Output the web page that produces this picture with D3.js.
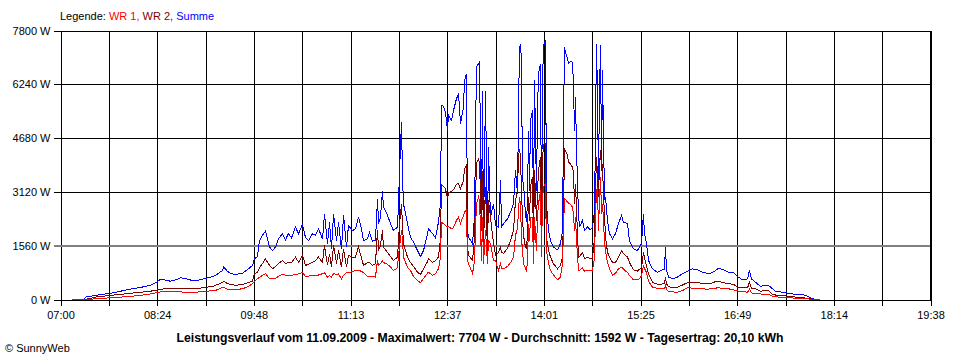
<!DOCTYPE html>
<html><head><meta charset="utf-8">
<script src="https://cdn.jsdelivr.net/npm/d3@7/dist/d3.min.js"></script>
<style>
html,body{margin:0;padding:0;background:#fff;}
svg{display:block;}
text{font-family:"Liberation Sans",Arial,sans-serif;}
</style></head>
<body>
<svg id="chart" width="960" height="360"></svg>
<script>
// time of day in minutes since midnight
const times = [429.6,440.9,441.8,450.5,463.6,472.3,481.0,489.7,498.4,504.5,507.1,513.2,515.8,521.9,524.6,530.6,535.0,542.0,548.1,553.3,
555.0,561.1,562.0,565.5,568.1,572.5,578.6,583.8,587.3,589.0,591.6,593.4,596.0,598.6,600.4,602.1,604.7,607.3,609.9,613.4,
616.0,618.6,621.3,624.7,627.4,630.8,633.5,636.1,639.6,642.2,644.8,648.3,650.0,652.6,654.4,656.1,657.9,660.5,662.2,664.8,
666.6,669.2,670.9,674.4,677.0,679.6,682.2,684.0,687.5,689.2,691.8,694.4,696.2,697.1,698.8,700.5,701.4,704.9,707.5,710.1,
713.6,714.5,715.4,717.1,718.0,718.8,722.3,724.9,727.6,731.0,733.7,736.3,739.8,740.6,744.1,746.7,749.3,751.1,751.9,753.7,
755.4,757.2,758.0,760.7,762.4,765.0,766.8,768.5,771.1,772.0,773.7,774.6,775.5,779.0,780.7,782.4,784.2,785.1,786.8,787.7,
788.5,790.3,792.0,792.9,794.6,797.3,799.0,801.6,803.4,804.2,806.0,809.5,812.1,814.7,816.4,818.2,819.0,819.9,820.8,821.6,
822.5,823.4,825.1,826.0,826.9,827.7,828.6,829.5,831.2,832.1,833.0,834.7,835.6,836.5,838.2,839.1,839.9,840.8,841.7,842.6,
843.4,845.2,846.9,849.5,853.0,855.6,857.4,858.2,859.1,860.0,861.7,862.6,864.3,866.1,867.0,867.8,868.7,869.6,871.3,872.2,
874.8,876.5,879.1,881.8,883.5,885.3,886.1,887.0,887.9,888.7,889.6,890.5,891.4,892.2,893.1,894.0,894.8,896.6,898.3,900.9,
903.5,906.2,908.8,910.5,914.0,915.7,919.2,922.7,924.5,926.2,927.9,928.8,930.6,932.3,935.8,940.1,944.5,946.2,947.1,948.0,
949.7,953.2,957.6,961.9,966.3,970.6,975.0,979.4,983.7,986.3,990.7,993.3,997.6,1002.0,1006.4,1009.8,1014.2,1018.6,1020.3,1022.0,
1025.5,1029.9,1034.2,1036.8,1040.3,1043.0,1049.1,1054.3,1060.4,1064.7,1069.1,1073.4,1077.8,1081.3];

// Summe (W)
const summe = [0,0,70,120,180,240,300,350,410,520,590,550,530,590,630,590,550,570,630,670,
700,840,940,820,750,730,760,890,990,1180,1250,1710,1860,1980,1760,1520,1420,1520,1760,1910,
1730,1910,1790,2100,1910,2180,1790,1710,1910,1860,2050,1760,2490,1620,2240,1470,2490,1710,2240,1470,
2440,1520,2150,2000,2050,2390,2050,1710,1760,1950,1690,1710,2920,2200,2390,3140,2680,2440,2200,2000,
2100,2780,3740,5140,3550,2780,2200,1810,1660,1420,1250,1420,1910,2050,1910,1790,2240,2780,5630,5600,
5430,4900,5340,5190,5480,5820,5970,5100,5580,6350,6550,2000,1810,1620,2390,6740,6840,6900,2000,6060,
1810,6060,1620,4420,2390,2780,2150,2100,3450,2100,2200,2340,2530,2780,3740,3070,5390,7320,7370,6930,
3450,3360,2490,2240,2870,4900,3160,5190,5480,2390,6350,3160,5480,6550,6840,2200,6260,7320,7460,7510,
2780,2000,1710,1520,1440,1620,2000,4900,7320,7170,6980,6840,6910,6880,6160,4900,5870,4320,2490,2100,
2290,2000,2100,2020,2100,2580,4900,7420,5870,3450,6000,7380,3800,6640,4700,2900,2970,2290,1910,1760,
1910,2200,2440,2240,2200,1710,1470,1420,1520,1620,2490,1910,1620,1130,890,790,860,860,1520,860,
650,600,650,750,820,890,860,790,760,760,840,910,860,790,790,670,570,600,840,600,
500,380,410,410,310,240,210,180,150,150,120,50,0,0];

// WR 2 (W)
const wr2 = [0,0,0,70,120,150,180,210,240,280,300,310,310,320,320,310,310,330,360,390,
410,490,530,460,440,410,440,490,530,750,780,930,1040,1180,1070,990,890,960,1040,1130,
1040,1070,1070,1230,1080,1280,990,1020,1080,1130,1230,1070,1570,990,1330,940,1570,1040,1420,940,
1470,940,1280,1220,1230,1520,1210,990,1070,1080,990,1040,2000,1420,1570,2000,1520,1360,1250,1130,
1230,1710,2200,2780,2150,1620,1230,1070,960,790,730,890,1100,1180,1070,1130,1230,1760,3340,3280,
3210,2920,3100,3140,3180,3340,3360,3210,3450,3800,3890,1520,1280,1130,1810,3940,4080,3970,2000,3740,
1620,3260,1420,2870,2390,1620,1280,1360,1520,1360,1340,1480,1710,2000,2870,3160,4130,4370,4130,3160,
2390,1860,1520,1480,1910,2970,2290,3260,3550,1620,3740,2290,3160,3740,4130,1620,4030,4470,4520,4520,
1810,1420,1230,1040,890,990,1230,2390,4370,4320,4180,3980,3940,3830,3650,2780,3360,2580,1230,1250,
1360,1180,1220,1190,1180,1810,3160,4130,3600,2970,3890,4320,3740,3940,2970,2490,1810,1370,1220,1080,
1070,1220,1420,1330,1230,1070,860,820,880,920,1370,1220,960,750,500,440,450,460,650,450,
380,340,360,420,490,500,500,460,460,460,520,520,490,460,440,360,350,340,500,330,
310,240,260,260,150,130,120,90,70,70,40,20,0,0];

// WR 1 (W)
const wr1 = [0,0,0,20,50,70,90,120,160,200,220,230,230,220,220,210,210,220,240,260,
260,350,360,290,280,290,310,380,460,520,600,640,700,750,670,600,600,610,670,730,
710,700,700,730,740,790,670,680,700,700,710,750,780,650,700,650,750,730,740,600,
700,790,780,810,840,840,820,780,670,670,660,650,1130,990,1040,1130,1070,1020,940,840,
920,1280,1520,2000,1710,1230,940,840,670,550,490,610,770,790,700,750,890,1230,2240,2200,
2150,2100,2120,2050,2090,2290,2390,2200,2440,2520,2630,1130,1040,750,1130,2780,2970,2870,1130,2390,
1040,2000,1040,1710,1620,1130,1130,840,1070,890,890,960,1070,1230,1860,2060,2580,2970,2730,1810,
1420,1040,900,840,1070,2200,1710,2390,2390,1040,2390,1420,2390,2780,3160,1230,2870,3260,3310,3360,
1420,1040,840,710,570,650,1040,2000,2920,2900,2820,2800,2760,2680,2440,2000,2390,1710,840,840,
920,820,840,840,840,1230,2390,3160,3260,2000,2870,3550,2490,2780,2290,1620,1420,1070,900,700,
760,890,940,880,780,700,570,570,610,680,990,900,780,530,360,320,310,310,410,290,
240,220,210,260,340,330,330,310,300,310,330,340,320,310,280,250,230,210,310,190,
170,160,150,150,90,80,60,50,40,30,30,10,0,0];

const yTickValues = [0, 1560, 3120, 4680, 6240, 7800];
const xTickLabels = ["07:00","08:24","09:48","11:13","12:37","14:01","15:25","16:49","18:14","19:38"];
const averageW = 1592;
const titleText = "Leistungsverlauf vom 11.09.2009 - Maximalwert: 7704 W - Durchschnitt: 1592 W - Tagesertrag: 20,10 kWh";

const svg = d3.select("#chart");
const x0 = 60.5, x1 = 930.5, yTop = 30.5, yBot = 299.5;
const tStart = 420, tEnd = 1178;
const x = d3.scaleLinear().domain([tStart, tEnd]).range([x0, x1]);
const y = d3.scaleLinear().domain([0, 7800]).range([yBot, yTop]);

const gridTicks = d3.range(19).map(i => tStart + i * (tEnd - tStart) / 18);

// vertical grid
const gx = svg.append("g").attr("transform", `translate(0,${yBot})`)
  .call(d3.axisBottom(x).tickValues(gridTicks).tickSize(-(yBot - yTop)).tickFormat(""));
gx.select(".domain").remove();
gx.selectAll("line").attr("stroke", "#000").attr("shape-rendering", "crispEdges");

// horizontal grid
const gy = svg.append("g").attr("transform", `translate(${x1},0)`)
  .call(d3.axisLeft(y).tickValues(yTickValues).tickSize(x1 - 54).tickFormat(""));
gy.select(".domain").remove();
gy.selectAll("line").attr("stroke", "#000").attr("shape-rendering", "crispEdges");

// average line
svg.append("line")
  .attr("x1", 54).attr("x2", x1)
  .attr("y1", Math.round(y(averageW)) + 0.5).attr("y2", Math.round(y(averageW)) + 0.5)
  .attr("stroke", "#808080").attr("stroke-width", 2).attr("shape-rendering", "crispEdges");

// right border
svg.append("line").attr("x1", x1).attr("x2", x1).attr("y1", yTop).attr("y2", yBot)
  .attr("stroke", "#000").attr("shape-rendering", "crispEdges");

// x axis with ticks + labels
const ax = svg.append("g").attr("transform", `translate(0,${yBot})`)
  .call(d3.axisBottom(x).tickValues(gridTicks).tickSize(6).tickSizeOuter(0)
    .tickFormat((d, i) => i % 2 === 0 ? xTickLabels[i / 2] : ""));
ax.select(".domain").attr("stroke", "#000").attr("shape-rendering", "crispEdges");
ax.selectAll("line").attr("stroke", "#000").attr("shape-rendering", "crispEdges");
ax.selectAll("text").attr("fill", "#000").attr("font-size", "11px")
  .attr("font-family", "'Liberation Sans', Arial, sans-serif").attr("dy", "0.71em").attr("y", 12);

// y axis labels
const ay = svg.append("g").attr("transform", `translate(${x0},0)`)
  .call(d3.axisLeft(y).tickValues(yTickValues).tickSize(0).tickPadding(10)
    .tickFormat(d => d + " W"));
ay.select(".domain").remove();
ay.selectAll("text").attr("fill", "#000").attr("font-size", "11px")
  .attr("font-family", "'Liberation Sans', Arial, sans-serif");

// series
const line = d3.line().x((d, i) => x(times[i])).y(d => y(d)).curve(d3.curveLinear);
const series = [
  {name: "Summe", values: summe, color: "#0000ff"},
  {name: "WR 2", values: wr2, color: "#800000"},
  {name: "WR 1", values: wr1, color: "#ff0000"}
];
svg.append("g").selectAll("path").data(series).join("path")
  .attr("d", s => line(s.values))
  .attr("fill", "none").attr("stroke", s => s.color).attr("stroke-width", 1)
  .attr("shape-rendering", "crispEdges");

// legend
const leg = svg.append("text").attr("x", 60).attr("y", 20).attr("font-size", "11px");
leg.append("tspan").attr("fill", "#000").text("Legende: ");
leg.append("tspan").attr("fill", "#ff0000").text("WR 1, ");
leg.append("tspan").attr("fill", "#800000").text("WR 2, ");
leg.append("tspan").attr("fill", "#0000ff").text("Summe");

// title
svg.append("text").attr("x", 480).attr("y", 342).attr("text-anchor", "middle")
  .attr("font-size", "12px").attr("font-weight", "bold").attr("fill", "#000")
  .attr("textLength", 607).attr("lengthAdjust", "spacingAndGlyphs")
  .text(titleText);

// copyright
svg.append("text").attr("x", 5).attr("y", 352).attr("font-size", "11px").attr("fill", "#000")
  .text("© SunnyWeb");
</script>
</body></html>
